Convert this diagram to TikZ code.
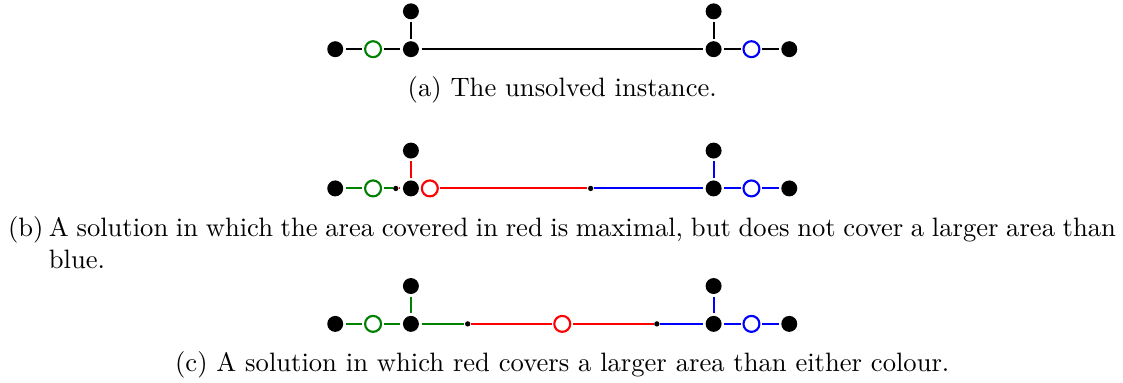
\documentclass[tikz,border=0pt]{standalone}
\usepackage{tikz}
\definecolor{sitegreen}{RGB}{0,128,0}

\begin{document}
\begin{tikzpicture}[
    vert/.style   = {circle, fill=black, inner sep=0pt, minimum size=6pt, outer sep=1pt},
    site/.style   = {circle, draw=#1, fill=white, line width=0.8pt,
                     inner sep=0pt, minimum size=6pt, outer sep=1pt},
    tick/.style   = {circle, fill=black, inner sep=0pt, minimum size=2pt},
    link/.style   = {line width=0.8pt, draw=#1},
    subcap/.style = {anchor=base, align=left},
  ]
    \useasboundingbox (-4.43,0.65) rectangle (10.41,-4.41);

    % (a) the unsolved instance
    \node[vert]            (a1)  at (0,0)   {};
    \node[site=sitegreen]  (ag)  at (0.5,0) {};
    \node[vert]            (a2)  at (1,0)   {};
    \node[vert]            (a2t) at (1,0.5) {};
    \node[vert]            (a3)  at (5,0)   {};
    \node[vert]            (a3t) at (5,0.5) {};
    \node[site=blue]       (ab)  at (5.5,0) {};
    \node[vert]            (a4)  at (6,0)   {};
    \draw[link=black] (a1) -- (ag);
    \draw[link=black] (ag) -- (a2);
    \draw[link=black] (a2) -- (a2t);
    \draw[link=black] (a2) -- (a3);
    \draw[link=black] (a3) -- (a3t);
    \draw[link=black] (a3) -- (ab);
    \draw[link=black] (ab) -- (a4);
    \node[subcap] (capa) at (3,-0.63) {(a) The unsolved instance.};

    % (b) red maximal
    \node[vert]            (b1)  at (0,-1.84)     {};
    \node[site=sitegreen]  (bg)  at (0.5,-1.84)   {};
    \node[tick]            (bs)  at (0.8,-1.84)   {};
    \node[vert]            (b2)  at (1,-1.84)     {};
    \node[vert]            (b2t) at (1,-1.34)     {};
    \node[site=red]        (br)  at (1.25,-1.84)  {};
    \node[tick]            (bm)  at (3.375,-1.84) {};
    \node[vert]            (b3)  at (5,-1.84)     {};
    \node[vert]            (b3t) at (5,-1.34)     {};
    \node[site=blue]       (bb)  at (5.5,-1.84)   {};
    \node[vert]            (b4)  at (6,-1.84)     {};
    \draw[link=sitegreen] (b1) -- (bg);
    \draw[link=sitegreen] (bg) -- (bs);
    \draw[link=red]  (bs) -- (b2);
    \draw[link=red]  (b2) -- (b2t);
    \draw[link=red]  (br) -- (bm);
    \draw[link=blue] (bm) -- (b3);
    \draw[link=blue] (b3) -- (b3t);
    \draw[link=blue] (b3) -- (bb);
    \draw[link=blue] (bb) -- (b4);
    \node[anchor=base west, inner xsep=0pt] (labb) at (-4.33,-2.47) {(b)};
    \node[subcap, anchor=base west, inner xsep=0pt] (capb) at (-3.79,-2.892)
      {\makebox[14.1cm][s]{A solution in which the area covered in red is maximal, but does not cover a larger area than}\\blue.};

    % (c) red covers most
    \node[vert]            (c1)  at (0,-3.63)    {};
    \node[site=sitegreen]  (cg)  at (0.5,-3.63)  {};
    \node[vert]            (c2)  at (1,-3.63)    {};
    \node[vert]            (c2t) at (1,-3.13)    {};
    \node[tick]            (cs)  at (1.75,-3.63) {};
    \node[site=red]        (cr)  at (3,-3.63)    {};
    \node[tick]            (cm)  at (4.25,-3.63) {};
    \node[vert]            (c3)  at (5,-3.63)    {};
    \node[vert]            (c3t) at (5,-3.13)    {};
    \node[site=blue]       (cb)  at (5.5,-3.63)  {};
    \node[vert]            (c4)  at (6,-3.63)    {};
    \draw[link=sitegreen] (c1) -- (cg);
    \draw[link=sitegreen] (cg) -- (c2);
    \draw[link=sitegreen] (c2) -- (c2t);
    \draw[link=sitegreen] (c2) -- (cs);
    \draw[link=red]  (cs) -- (cr);
    \draw[link=red]  (cr) -- (cm);
    \draw[link=blue] (cm) -- (c3);
    \draw[link=blue] (c3) -- (c3t);
    \draw[link=blue] (c3) -- (cb);
    \draw[link=blue] (cb) -- (c4);
    \node[subcap] (capc) at (3,-4.26)
      {(c) A solution in which red covers a larger area than either colour.};
  \end{tikzpicture}
\end{document}
